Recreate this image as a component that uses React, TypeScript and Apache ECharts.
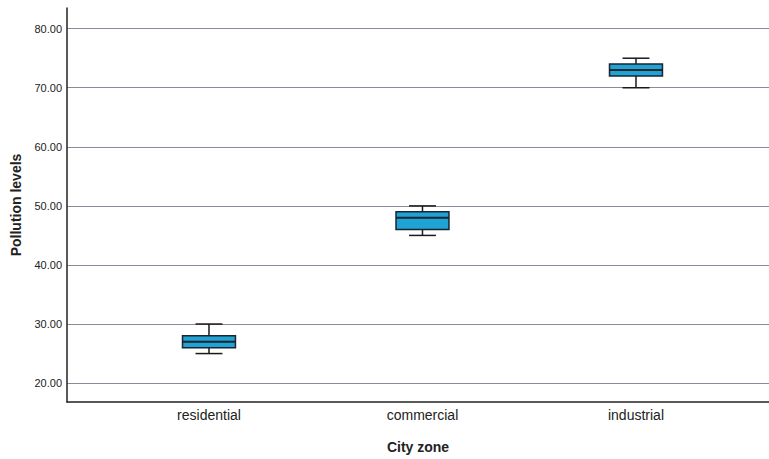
import React, { useEffect, useRef } from 'react';
import * as echarts from 'echarts';

const categories = ['residential', 'commercial', 'industrial'];
const minValues = [25, 45, 70];
const q1Values = [26, 46, 72];
const medianValues = [27, 48, 73];
const q3Values = [28, 49, 74];
const maxValues = [30, 50, 75];
const yTicks = [20, 30, 40, 50, 60, 70, 80];

const FONT = 'Liberation Sans, Arial, sans-serif';

export default function App() {
  const ref = useRef<HTMLDivElement>(null);
  useEffect(() => {
    const chart = echarts.init(ref.current as HTMLDivElement, null, { renderer: 'svg' });
    const data = categories.map((_, i) => [i, minValues[i], q1Values[i], medianValues[i], q3Values[i], maxValues[i]]);
    chart.setOption({
      animation: false,
      backgroundColor: '#ffffff',
      grid: { left: 67, right: 0, top: 8, bottom: 56 },
      xAxis: {
        type: 'value',
        min: -0.665,
        max: 2.623,
        axisLine: { show: true, onZero: false, lineStyle: { color: '#222222', width: 1.5 } },
        axisTick: { show: false },
        splitLine: { show: false },
        axisLabel: {
          customValues: [0, 1, 2],
          formatter: (v: number) => categories[Math.round(v)] ?? '',
          fontSize: 14,
          color: '#222222',
          margin: 6,
          fontFamily: FONT,
        },
        name: 'City zone',
        nameLocation: 'middle',
        nameGap: 38,
        nameTextStyle: { fontSize: 14, fontWeight: 'bold', color: '#222222', fontFamily: FONT },
      },
      yAxis: {
        type: 'value',
        min: 16.8,
        max: 83.5,
        axisLine: { show: true, onZero: false, lineStyle: { color: '#222222', width: 1.5 } },
        axisTick: { show: false, customValues: yTicks },
        axisLabel: {
          customValues: yTicks,
          formatter: (v: number) => v.toFixed(2),
          fontSize: 11,
          color: '#222222',
          margin: 5,
          fontFamily: FONT,
        },
        splitLine: { show: true, lineStyle: { color: '#8a8a9a', width: 1 } },
        name: 'Pollution levels',
        nameLocation: 'middle',
        nameGap: 44,
        nameTextStyle: { fontSize: 14, fontWeight: 'bold', color: '#222222', fontFamily: FONT },
      },
      series: [
        {
          type: 'custom',
          data,
          encode: { x: 0, y: [1, 2, 3, 4, 5] },
          renderItem: (params: any, api: any) => {
            const idx = api.value(0);
            const pMin = api.coord([idx, api.value(1)]);
            const pQ1 = api.coord([idx, api.value(2)]);
            const pMed = api.coord([idx, api.value(3)]);
            const pQ3 = api.coord([idx, api.value(4)]);
            const pMax = api.coord([idx, api.value(5)]);
            const unit = api.size([1, 0])[0];
            const boxW = unit * 0.248;
            const capW = unit * 0.126;
            const x = pMed[0];
            const lineStyle = { stroke: '#1a1a1a', lineWidth: 1.5 };
            return {
              type: 'group',
              children: [
                { type: 'line', shape: { x1: x, y1: pMax[1], x2: x, y2: pQ3[1] }, style: lineStyle },
                { type: 'line', shape: { x1: x, y1: pQ1[1], x2: x, y2: pMin[1] }, style: lineStyle },
                { type: 'line', shape: { x1: x - capW / 2, y1: pMax[1], x2: x + capW / 2, y2: pMax[1] }, style: lineStyle },
                { type: 'line', shape: { x1: x - capW / 2, y1: pMin[1], x2: x + capW / 2, y2: pMin[1] }, style: lineStyle },
                {
                  type: 'rect',
                  shape: { x: x - boxW / 2, y: pQ3[1], width: boxW, height: pQ1[1] - pQ3[1] },
                  style: { fill: '#1fa2d4', stroke: '#1a2530', lineWidth: 1.5 },
                },
                { type: 'line', shape: { x1: x - boxW / 2, y1: pMed[1], x2: x + boxW / 2, y2: pMed[1] }, style: { stroke: '#1a2530', lineWidth: 2 } },
              ],
            };
          },
        },
      ],
    });
    return () => chart.dispose();
  }, []);
  return <div ref={ref} style={{ width: 769, height: 459, position: 'absolute', left: 0, top: 0 }} />;
}
